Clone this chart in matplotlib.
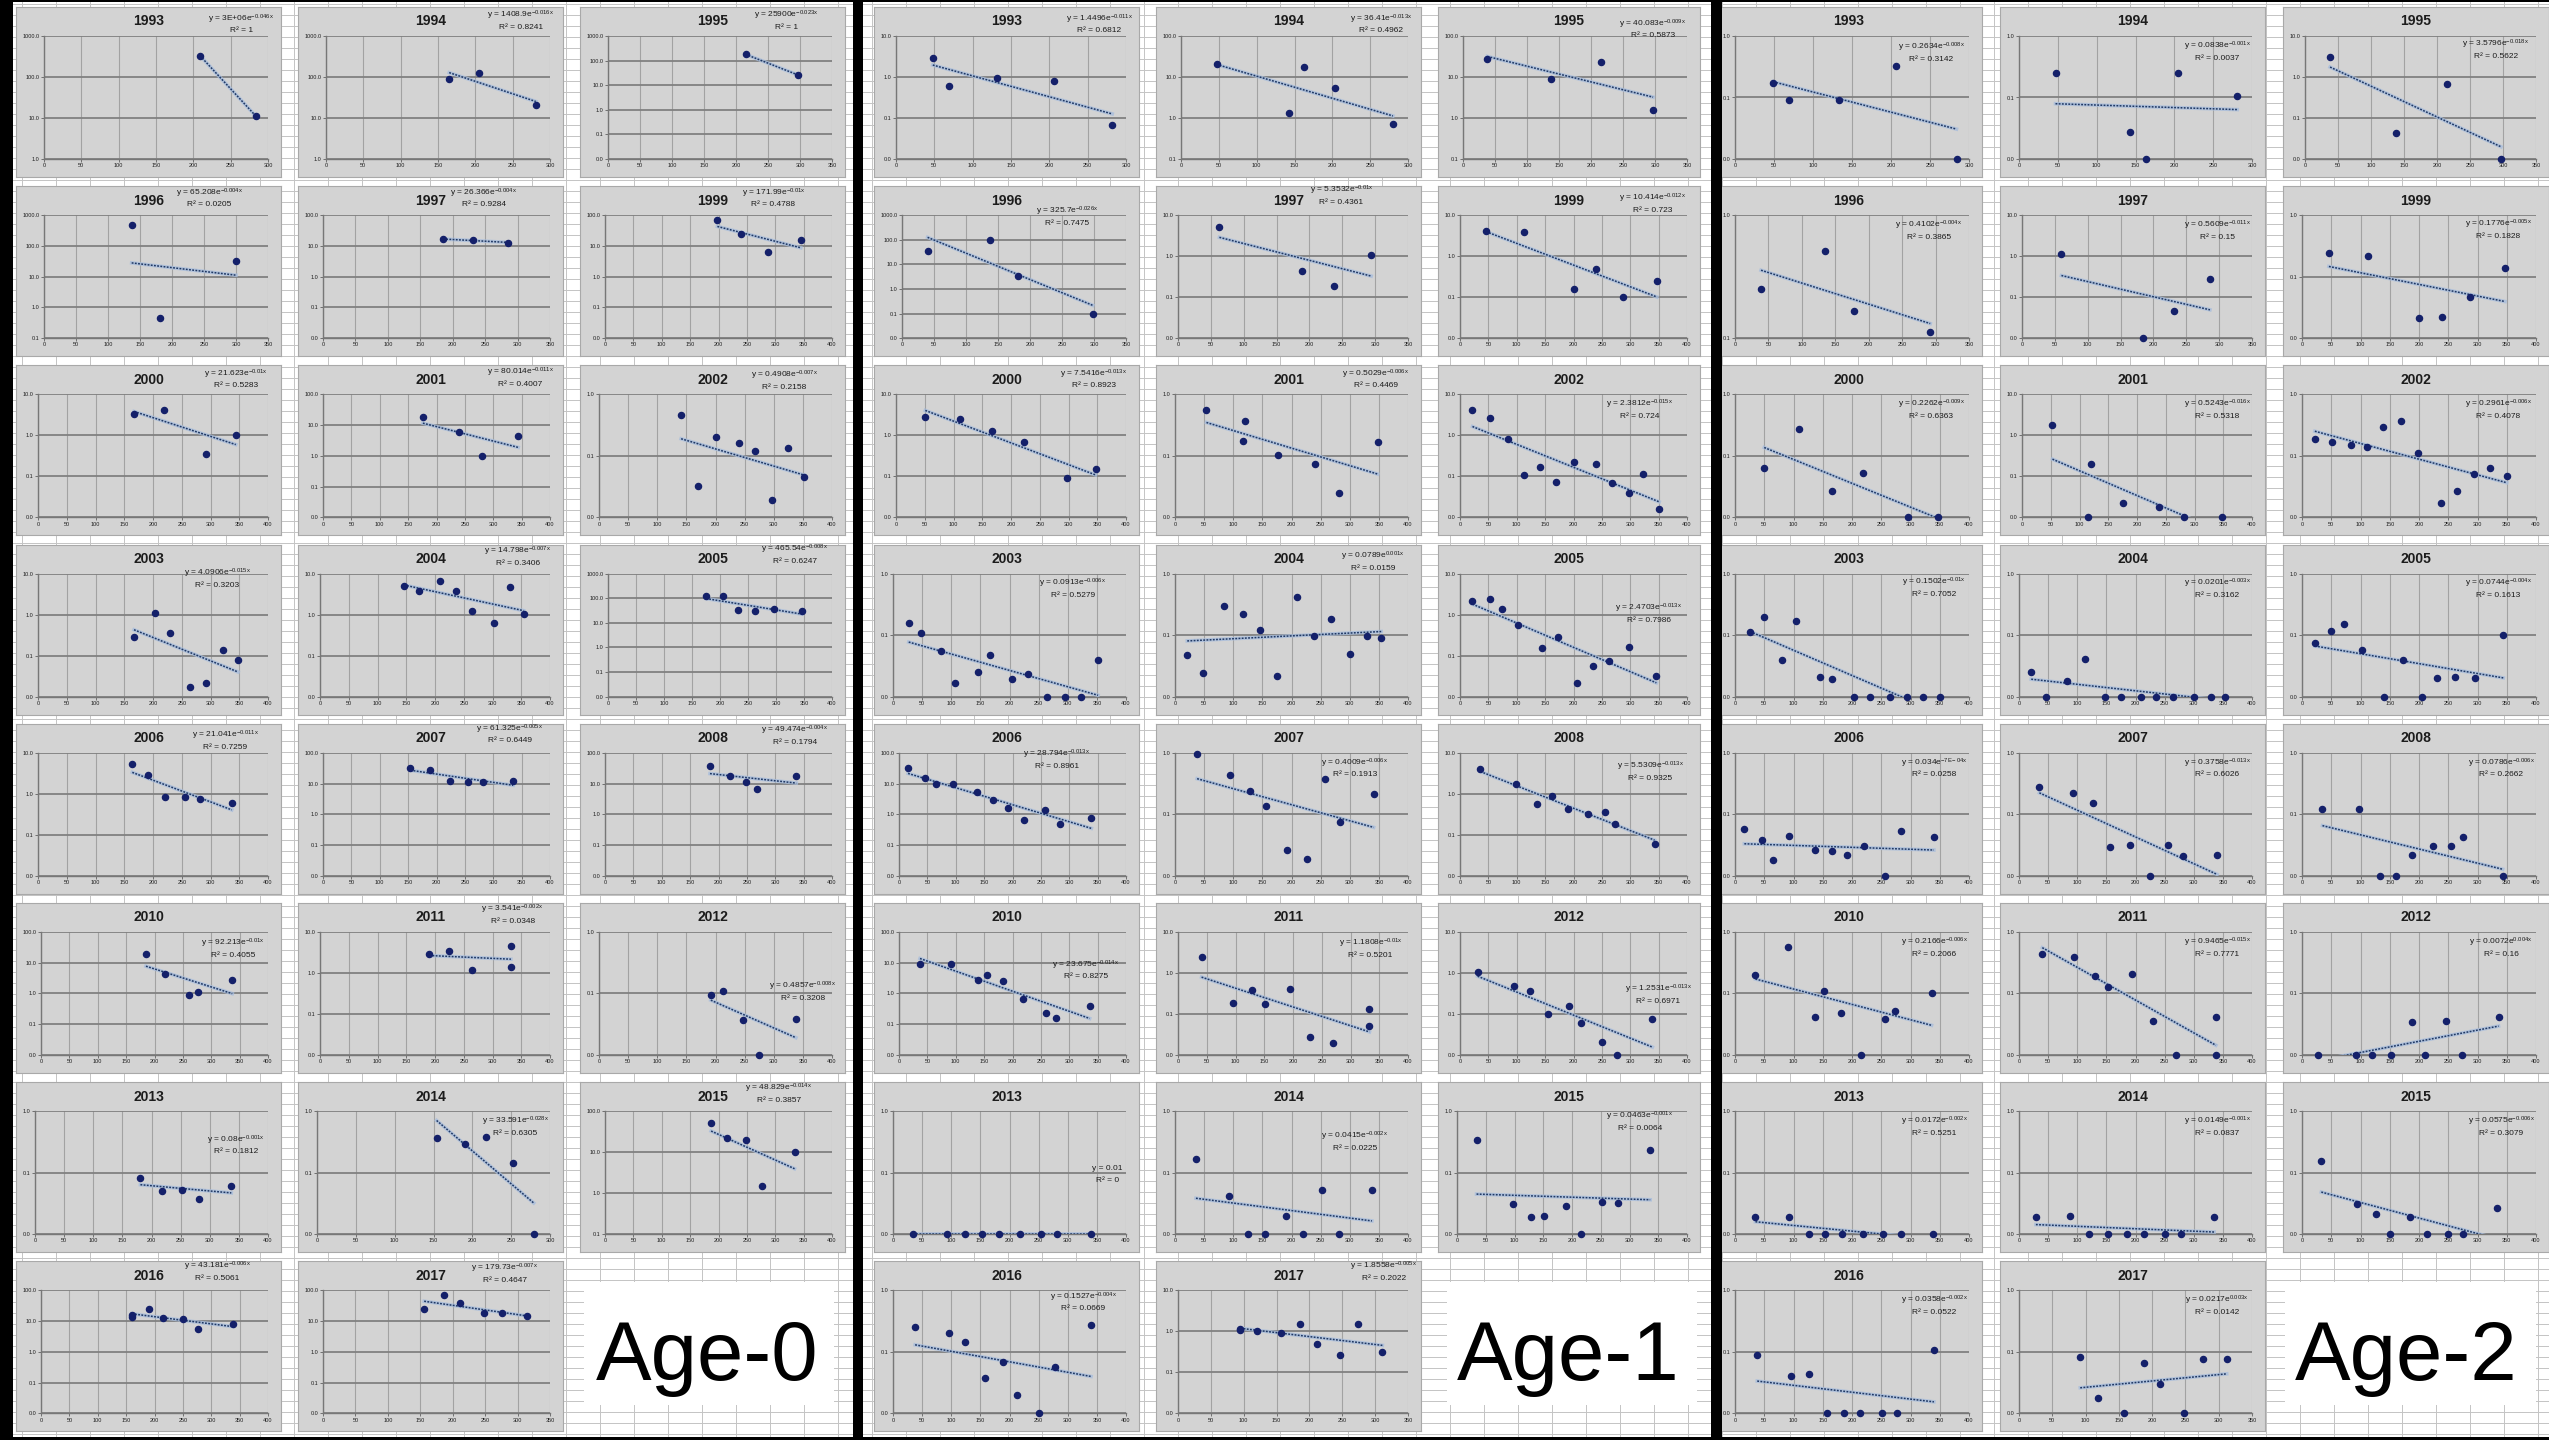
import numpy as np
import matplotlib
matplotlib.use("Agg")
import matplotlib.pyplot as plt
from matplotlib.patches import Rectangle
from matplotlib.ticker import FixedLocator, NullLocator

# ---------------------------------------------------------------- data
YEARS = [1993, 1994, 1995, 1996, 1997, 1999, 2000, 2001, 2002, 2003, 2004, 2005,
         2006, 2007, 2008, 2010, 2011, 2012, 2013, 2014, 2015, 2016, 2017]
AGE_LABELS = ["Age-0", "Age-1", "Age-2"]

# ---- Age-0
AGE0_XMAX = [300, 300, 350, 350, 350, 400, 400, 400, 400, 400, 400, 400,
             400, 400, 400, 400, 400, 400, 400, 300, 400, 400, 350]
AGE0_YDEC = [(0, 3), (0, 3), (-2, 3), (-1, 3), (-2, 2), (-2, 2), (-2, 1), (-2, 2), (-2, 0),
             (-2, 1), (-2, 1), (-2, 3), (-2, 1), (-2, 2), (-2, 2), (-2, 2), (-2, 1), (-2, 0),
             (-2, 0), (-2, 0), (-1, 2), (-2, 2), (-2, 2)]
AGE0_X = [
    [209, 284], [165, 205, 281], [215, 297], [137, 181, 300], [185, 232, 286],
    [198, 239, 287, 345], [167, 219, 293, 344], [176, 239, 281, 344],
    [141, 170, 200, 240, 268, 297, 324, 352], [167, 203, 229, 264, 293, 322, 348],
    [146, 173, 208, 237, 265, 302, 331, 354], [175, 205, 232, 262, 297, 346],
    [164, 191, 220, 256, 282, 337], [154, 189, 224, 255, 282, 335],
    [185, 220, 249, 268, 337], [185, 219, 260, 277, 337], [190, 224, 265, 332, 332],
    [192, 213, 248, 275, 338], [181, 218, 253, 282, 337], [154, 190, 218, 253, 279],
    [187, 215, 249, 277, 334], [160, 160, 190, 215, 250, 277, 338],
    [156, 186, 212, 248, 276, 314]]
AGE0_Y = [
    [330, 11], [90, 125, 21], [180, 26], [480, 0.45, 32], [16.5, 15.5, 12.8],
    [69, 24, 6.4, 16], [3.3, 4.2, 0.36, 1.04], [19, 5.9, 1.0, 4.3],
    [0.46, 0.033, 0.20, 0.16, 0.118, 0.019, 0.133, 0.045],
    [0.29, 1.1, 0.36, 0.017, 0.022, 0.14, 0.078],
    [5.0, 3.7, 6.5, 3.7, 1.2, 0.64, 4.7, 1.04], [118, 120, 33, 30, 37, 30],
    [5.3, 2.9, 0.82, 0.83, 0.76, 0.59], [32, 28.5, 11.7, 11.4, 11, 12],
    [36, 18, 11, 6.8, 18], [19.6, 4.4, 0.88, 1.14, 2.7], [2.9, 3.5, 1.2, 4.5, 1.4],
    [0.095, 0.11, 0.037, 0.01, 0.039], [0.082, 0.051, 0.053, 0.038, 0.061],
    [0.37, 0.29, 0.38, 0.144, 0.01], [52, 22, 20, 1.5, 10],
    [14, 16, 24, 13, 12, 5.6, 8], [24.7, 71, 39, 18, 18, 14.7]]
AGE0_COEF = ["3E+06", "1408.9", "25900", "65.208", "26.366", "171.99", "21.623", "80.014",
             "0.4908", "4.0906", "14.798", "465.54", "21.041", "61.325", "49.474", "92.213",
             "3.541", "0.4857", "0.08", "33.591", "48.829", "43.181", "179.73"]
AGE0_EXP = ["-0.046x", "-0.016x", "-0.023x", "-0.004x", "-0.004x", "-0.01x", "-0.01x",
            "-0.011x", "-0.007x", "-0.015x", "-0.007x", "-0.008x", "-0.011x", "-0.005x",
            "-0.004x", "-0.01x", "-0.002x", "-0.008x", "-0.001x", "-0.028x", "-0.014x",
            "-0.006x", "-0.007x"]
AGE0_R2 = ["1", "0.8241", "1", "0.0205", "0.9284", "0.4788", "0.5283", "0.4007", "0.2158",
           "0.3203", "0.3406", "0.6247", "0.7259", "0.6449", "0.1794", "0.4055", "0.0348",
           "0.3208", "0.1812", "0.6305", "0.3857", "0.5061", "0.4647"]

# ---- Age-1
AGE1_XMAX = [300, 300, 350, 350, 350, 400, 400, 400, 400, 400, 400, 400,
             400, 400, 400, 400, 400, 400, 400, 400, 400, 400, 350]
AGE1_YDEC = [(-2, 1), (-1, 2), (-1, 2), (-2, 3), (-2, 1), (-2, 1), (-2, 1), (-2, 0), (-2, 1),
             (-2, 0), (-2, 0), (-2, 1), (-2, 2), (-2, 0), (-2, 1), (-2, 2), (-2, 1), (-2, 1),
             (-2, 0), (-2, 0), (-2, 0), (-2, 0), (-2, 1)]
AGE1_X = [
    [48, 69, 132, 206, 282], [47, 143, 163, 204, 280], [38, 138, 215, 297],
    [40, 138, 182, 298], [63, 188, 237, 294], [46, 112, 200, 240, 288, 347],
    [51, 112, 167, 222, 297, 347], [54, 116, 121, 176, 241, 281, 348],
    [22, 52, 84, 112, 141, 170, 200, 240, 267, 297, 323, 351],
    [27, 48, 83, 107, 146, 167, 204, 231, 265, 295, 322, 352],
    [21, 48, 84, 116, 146, 175, 210, 238, 267, 300, 330, 354],
    [22, 52, 74, 103, 145, 173, 207, 234, 262, 297, 346],
    [16, 46, 66, 95, 138, 165, 192, 220, 257, 283, 339],
    [38, 95, 128, 157, 193, 227, 257, 284, 341],
    [36, 98, 135, 162, 190, 225, 255, 274, 343],
    [37, 92, 140, 155, 184, 218, 259, 276, 336],
    [41, 95, 129, 152, 195, 229, 269, 333, 333],
    [31, 95, 124, 155, 192, 214, 250, 276, 339],
    [35, 93, 124, 153, 182, 218, 254, 282, 340],
    [36, 93, 126, 154, 190, 219, 253, 281, 338],
    [34, 97, 129, 152, 189, 216, 252, 280, 336],
    [38, 96, 124, 158, 188, 213, 251, 278, 340],
    [95, 95, 120, 157, 186, 212, 247, 274, 311]]
AGE1_Y = [
    [2.9, 0.59, 0.95, 0.79, 0.066], [21, 1.32, 18, 5.4, 0.72], [27, 9, 23, 1.6],
    [34, 100, 3.4, 0.1], [5.2, 0.44, 0.19, 1.08], [4.2, 4.0, 0.16, 0.5, 0.10, 0.25],
    [2.8, 2.55, 1.26, 0.69, 0.091, 0.15], [0.55, 0.176, 0.37, 0.105, 0.073, 0.025, 0.17],
    [4.2, 2.7, 0.84, 0.11, 0.17, 0.072, 0.22, 0.205, 0.069, 0.039, 0.115, 0.016],
    [0.157, 0.11, 0.056, 0.0168, 0.025, 0.048, 0.019, 0.023, 0.01, 0.01, 0.01, 0.039],
    [0.048, 0.024, 0.30, 0.22, 0.12, 0.022, 0.41, 0.096, 0.18, 0.050, 0.097, 0.091],
    [2.2, 2.35, 1.4, 0.56, 0.156, 0.29, 0.022, 0.055, 0.072, 0.16, 0.031],
    [31, 14.7, 10, 9.5, 5.3, 2.9, 1.55, 0.65, 1.43, 0.47, 0.77],
    [0.97, 0.44, 0.24, 0.139, 0.026, 0.019, 0.37, 0.075, 0.21],
    [4.0, 1.78, 0.55, 0.89, 0.42, 0.33, 0.37, 0.18, 0.06],
    [9.3, 9.3, 2.7, 4.0, 2.5, 0.66, 0.23, 0.155, 0.40],
    [2.45, 0.185, 0.38, 0.173, 0.40, 0.028, 0.020, 0.052, 0.13],
    [1.08, 0.47, 0.36, 0.10, 0.16, 0.062, 0.021, 0.01, 0.075],
    [0.01, 0.01, 0.01, 0.01, 0.01, 0.01, 0.01, 0.01, 0.01],
    [0.17, 0.042, 0.01, 0.01, 0.020, 0.01, 0.052, 0.01, 0.053],
    [0.34, 0.031, 0.019, 0.020, 0.029, 0.01, 0.033, 0.032, 0.23],
    [0.25, 0.20, 0.144, 0.037, 0.068, 0.020, 0.01, 0.057, 0.27],
    [1.1, 1.15, 1.0, 0.92, 1.54, 0.5, 0.27, 1.48, 0.32]]
AGE1_COEF = ["1.4496", "36.41", "40.083", "325.7", "5.3532", "10.414", "7.5416", "0.5029",
             "2.3812", "0.0913", "0.0789", "2.4703", "28.794", "0.4009", "5.5309", "23.675",
             "1.1808", "1.2531", "0.01", "0.0415", "0.0463", "0.1527", "1.8558"]
AGE1_EXP = ["-0.011x", "-0.013x", "-0.009x", "-0.026x", "-0.01x", "-0.012x", "-0.013x",
            "-0.006x", "-0.015x", "-0.006x", "0.001x", "-0.013x", "-0.013x", "-0.006x",
            "-0.013x", "-0.014x", "-0.01x", "-0.013x", "", "-0.002x", "-0.001x", "-0.004x",
            "-0.005x"]
AGE1_R2 = ["0.6812", "0.4962", "0.5873", "0.7475", "0.4361", "0.723", "0.8923", "0.4469",
           "0.724", "0.5279", "0.0159", "0.7986", "0.8961", "0.1913", "0.9325", "0.8275",
           "0.5201", "0.6971", "0", "0.0225", "0.0064", "0.0669", "0.2022"]

# ---- Age-2
AGE2_XMAX = [300, 300, 350, 350, 350, 400, 400, 400, 400, 400, 400, 400,
             400, 400, 400, 400, 400, 400, 400, 400, 400, 400, 350]
AGE2_YDEC = [(-2, 0), (-2, 0), (-2, 1), (-1, 0), (-2, 1), (-2, 0), (-2, 0), (-2, 1), (-2, 0),
             (-2, 0), (-2, 0), (-2, 0), (-2, 0), (-2, 0), (-2, 0), (-2, 0), (-2, 0), (-2, 0),
             (-2, 0), (-2, 0), (-2, 0), (-2, 0), (-2, 0)]
AGE2_X = [
    [49, 69, 133, 207, 284], [47, 143, 163, 205, 281], [38, 138, 215, 297],
    [39, 134, 178, 292], [60, 184, 232, 286], [46, 112, 200, 240, 288, 347],
    [50, 109, 165, 219, 295, 347], [53, 114, 120, 176, 239, 281, 347],
    [22, 51, 83, 111, 139, 169, 198, 238, 265, 294, 322, 350],
    [26, 49, 81, 104, 146, 166, 204, 230, 265, 294, 322, 350],
    [21, 47, 82, 113, 147, 175, 209, 236, 265, 300, 329, 353],
    [22, 50, 72, 102, 141, 172, 205, 231, 261, 296, 344],
    [16, 46, 65, 93, 137, 165, 192, 221, 257, 284, 340],
    [35, 93, 127, 156, 191, 225, 255, 282, 340],
    [35, 98, 134, 160, 188, 224, 254, 275, 343],
    [35, 90, 137, 152, 182, 215, 257, 273, 336],
    [40, 94, 130, 152, 194, 230, 270, 338, 338],
    [28, 92, 120, 152, 188, 210, 247, 273, 336],
    [35, 92, 126, 154, 183, 218, 253, 283, 339],
    [29, 88, 121, 152, 186, 214, 250, 278, 335],
    [33, 94, 127, 151, 185, 214, 249, 276, 333],
    [38, 95, 126, 157, 187, 213, 251, 277, 340],
    [92, 119, 157, 188, 212, 248, 277, 312]]
AGE2_Y = [
    [0.17, 0.092, 0.09, 0.32, 0.01], [0.25, 0.027, 0.01, 0.25, 0.105], [3.0, 0.043, 0.68, 0.01],
    [0.25, 0.51, 0.165, 0.113], [1.16, 0.01, 0.047, 0.28], [0.24, 0.215, 0.021, 0.022, 0.046, 0.14],
    [0.064, 0.27, 0.027, 0.052, 0.01, 0.01], [1.8, 0.01, 0.2, 0.022, 0.018, 0.01, 0.01],
    [0.19, 0.17, 0.15, 0.137, 0.30, 0.37, 0.11, 0.017, 0.027, 0.051, 0.064, 0.048],
    [0.114, 0.20, 0.04, 0.17, 0.021, 0.019, 0.01, 0.01, 0.01, 0.01, 0.01, 0.01],
    [0.025, 0.01, 0.018, 0.041, 0.01, 0.01, 0.01, 0.01, 0.01, 0.01, 0.01, 0.01],
    [0.074, 0.118, 0.15, 0.057, 0.01, 0.039, 0.01, 0.020, 0.021, 0.020, 0.1],
    [0.057, 0.038, 0.018, 0.044, 0.026, 0.025, 0.022, 0.030, 0.01, 0.053, 0.042],
    [0.28, 0.22, 0.15, 0.029, 0.032, 0.01, 0.032, 0.021, 0.022],
    [0.12, 0.123, 0.01, 0.01, 0.022, 0.031, 0.031, 0.043, 0.01],
    [0.20, 0.56, 0.041, 0.11, 0.049, 0.01, 0.039, 0.052, 0.103],
    [0.44, 0.39, 0.19, 0.128, 0.21, 0.036, 0.01, 0.041, 0.01],
    [0.01, 0.01, 0.01, 0.01, 0.035, 0.01, 0.036, 0.01, 0.042],
    [0.019, 0.019, 0.01, 0.01, 0.01, 0.01, 0.01, 0.01, 0.01],
    [0.019, 0.020, 0.01, 0.01, 0.01, 0.01, 0.01, 0.01, 0.019],
    [0.155, 0.031, 0.021, 0.01, 0.019, 0.01, 0.01, 0.01, 0.027],
    [0.09, 0.041, 0.043, 0.01, 0.01, 0.01, 0.01, 0.01, 0.107],
    [0.082, 0.0175, 0.01, 0.066, 0.030, 0.01, 0.077, 0.077]]
AGE2_COEF = ["0.2634", "0.0838", "3.5796", "0.4102", "0.5609", "0.1776", "0.2262", "0.5243",
             "0.2961", "0.1502", "0.0201", "0.0744", "0.034", "0.3758", "0.0786", "0.2166",
             "0.9465", "0.0072", "0.0172", "0.0149", "0.0575", "0.0358", "0.0217"]
AGE2_EXP = ["-0.008x", "-0.001x", "-0.018x", "-0.004x", "-0.011x", "-0.005x", "-0.009x",
            "-0.016x", "-0.006x", "-0.01x", "-0.003x", "-0.004x", "-7E-04x", "-0.013x",
            "-0.006x", "-0.006x", "-0.015x", "0.004x", "-0.002x", "-0.001x", "-0.006x",
            "-0.002x", "0.003x"]
AGE2_R2 = ["0.3142", "0.0037", "0.5622", "0.3865", "0.15", "0.1828", "0.6363", "0.5318",
           "0.4078", "0.7052", "0.3162", "0.1613", "0.0258", "0.6026", "0.2662", "0.2066",
           "0.7771", "0.16", "0.5251", "0.0837", "0.3079", "0.0522", "0.0142"]

# ---------------------------------------------------------------- layout (not data)
AGE0_EQPOS = [(0.85, 0.93), (0.84, 0.95), (0.78, 0.95), (0.73, 0.96), (0.70, 0.96), (0.73, 0.96),
              (0.83, 0.95), (0.84, 0.96), (0.77, 0.94), (0.76, 0.83), (0.83, 0.96), (0.81, 0.97),
              (0.79, 0.93), (0.80, 0.97), (0.81, 0.96), (0.82, 0.76), (0.81, 0.96), (0.84, 0.51),
              (0.83, 0.66), (0.82, 0.77), (0.75, 0.965), (0.76, 0.97), (0.78, 0.96)]
AGE1_EQPOS = [(0.85, 0.93), (0.85, 0.93), (0.82, 0.90), (0.73, 0.85), (0.70, 0.975), (0.82, 0.93),
              (0.83, 0.95), (0.83, 0.95), (0.77, 0.77), (0.75, 0.77), (0.82, 0.93), (0.805, 0.625),
              (0.69, 0.82), (0.75, 0.77), (0.81, 0.75), (0.80, 0.635), (0.81, 0.76), (0.84, 0.49),
              (0.88, 0.49), (0.75, 0.68), (0.77, 0.80), (0.79, 0.79), (0.86, 0.97)]
AGE2_EQPOS = [(0.81, 0.76), (0.82, 0.77), (0.80, 0.78), (0.80, 0.77), (0.82, 0.77), (0.81, 0.775),
              (0.81, 0.77), (0.82, 0.77), (0.81, 0.77), (0.82, 0.775), (0.82, 0.77), (0.81, 0.77),
              (0.82, 0.77), (0.82, 0.77), (0.82, 0.77), (0.82, 0.77), (0.82, 0.77), (0.82, 0.77),
              (0.82, 0.77), (0.82, 0.77), (0.82, 0.77), (0.82, 0.77), (0.82, 0.77)]

W, H = 2549, 1440
COL_LEFT = [16, 298, 580, 874, 1156, 1438, 1716, 2000, 2283]
COL_W = [265, 265, 265, 265, 265, 262, 266, 265, 266]
ROW_TOP0, ROW_PITCH, CHART_H = 7, 179.2, 170
LABEL_BOX = [(584, 834), (1447, 1697), (2285, 2536)]
LABEL_BOX_Y = (1282, 1405)
LABEL_CX = [707, 1568, 2406]
LABEL_BASE = 1380

FONT = ['Liberation Sans Narrow', 'Liberation Sans', 'DejaVu Sans']
plt.rcParams['font.family'] = FONT
plt.rcParams['mathtext.fontset'] = 'custom'
plt.rcParams['mathtext.rm'] = 'Liberation Sans'
plt.rcParams['mathtext.it'] = 'Liberation Sans:italic'
plt.rcParams['mathtext.bf'] = 'Liberation Sans:bold'
plt.rcParams['mathtext.default'] = 'regular'

CHART_BG = '#d3d3d3'
DOT = '#14206a'


def rect_fig(left, top, w, h):
    return [left / W, 1 - (top + h) / H, w / W, h / H]


fig = plt.figure(figsize=(W / 100, H / 100), dpi=100)
fig.patch.set_facecolor('white')

# spreadsheet background
bg = fig.add_axes([0, 0, 1, 1])
bg.set_xlim(0, W)
bg.set_ylim(H, 0)
bg.axis('off')
bg.hlines(np.arange(4, H, 11.0), 0, W, color='#c4c4c4', lw=0.7)
bg.vlines(np.arange(22, W, 34.0), 0, H, color='#c4c4c4', lw=0.7)
for (x0, x1), cx in zip(LABEL_BOX, LABEL_CX):
    bg.add_patch(Rectangle((x0, LABEL_BOX_Y[0]), x1 - x0, LABEL_BOX_Y[1] - LABEL_BOX_Y[0],
                           facecolor='white', edgecolor='none', zorder=3))

groups = [
    (AGE0_XMAX, AGE0_YDEC, AGE0_X, AGE0_Y, AGE0_COEF, AGE0_EXP, AGE0_R2, AGE0_EQPOS),
    (AGE1_XMAX, AGE1_YDEC, AGE1_X, AGE1_Y, AGE1_COEF, AGE1_EXP, AGE1_R2, AGE1_EQPOS),
    (AGE2_XMAX, AGE2_YDEC, AGE2_X, AGE2_Y, AGE2_COEF, AGE2_EXP, AGE2_R2, AGE2_EQPOS),
]

for g, (xmaxs, ydecs, xs_all, ys_all, coefs, exps, r2s, eqpos) in enumerate(groups):
    for i, year in enumerate(YEARS):
        r, c = divmod(i, 3)
        left = COL_LEFT[g * 3 + c]
        cw = COL_W[g * 3 + c]
        top = ROW_TOP0 + ROW_PITCH * r
        ca = fig.add_axes(rect_fig(left, top, cw, CHART_H))
        ca.set_facecolor(CHART_BG)
        ca.set_xticks([])
        ca.set_yticks([])
        for s in ca.spines.values():
            s.set_color('#a9a9a9')
            s.set_linewidth(0.8)
        ca.text(0.5, 0.915, str(year), transform=ca.transAxes, ha='center', va='center',
                fontsize=10, fontweight='bold', color='#1c1c1c')

        ylo, yhi = ydecs[i]
        nlab = len(f"{10.0 ** yhi:.1f}")
        lin = 10 + 3 * nlab
        pa = fig.add_axes(rect_fig(left + lin, top + 29, cw - lin - 13, CHART_H - 29 - 18))
        pa.set_facecolor(CHART_BG)
        pa.set_yscale('log')
        pa.set_ylim(10.0 ** ylo, 10.0 ** yhi)
        pa.set_xlim(0, xmaxs[i])
        yt = [10.0 ** k for k in range(ylo, yhi + 1)]
        pa.yaxis.set_major_locator(FixedLocator(yt))
        pa.yaxis.set_minor_locator(NullLocator())
        pa.set_yticklabels([f"{v:.1f}" for v in yt])
        xt = list(range(0, xmaxs[i] + 1, 50))
        pa.set_xticks(xt)
        pa.set_xticklabels([str(v) for v in xt])
        pa.tick_params(labelsize=4, length=2, width=0.6, color='#606060', pad=1,
                       labelcolor='#202020')
        pa.grid(axis='y', color='#808080', lw=1.3)
        pa.grid(axis='x', color='#a2a2a2', lw=0.8)
        pa.set_axisbelow(True)
        for side in ('top', 'right'):
            pa.spines[side].set_visible(False)
        for side in ('left', 'bottom'):
            pa.spines[side].set_color('#777777')
            pa.spines[side].set_linewidth(1.0)

        x = np.array(xs_all[i], dtype=float)
        y = np.array(ys_all[i], dtype=float)
        b, a = np.polyfit(x, np.log(y), 1)
        xf = np.linspace(x.min(), x.max(), 60)
        yf = np.exp(a + b * xf)
        pa.plot(xf, yf, color='#a8bddc', lw=2.6, alpha=0.8, zorder=3)
        pa.plot(xf, yf, color='#1f3864', lw=1.1, ls=(0, (1.2, 0.9)), zorder=3.5)
        pa.plot(x, y, 'o', ms=4.4, color=DOT, mec=DOT, clip_on=False, zorder=4)

        ex, ey = eqpos[i]
        eq = f"y = {coefs[i]}e$^{{{exps[i]}}}$" if exps[i] else f"y = {coefs[i]}"
        pa.text(ex, ey, eq, transform=ca.transAxes, ha='center', va='center',
                fontsize=6, color='#1c1c1c', clip_on=False, zorder=6)
        pa.text(ex, ey - 0.07, f"R² = {r2s[i]}", transform=ca.transAxes, ha='center',
                va='center', fontsize=6, color='#1c1c1c', clip_on=False, zorder=6)

# group labels
for lab, cx in zip(AGE_LABELS, LABEL_CX):
    bg.text(cx, LABEL_BASE, lab, ha='center', va='baseline', fontsize=60, color='black',
            zorder=4)

# black frame / separators on top
ov = fig.add_axes([0, 0, 1, 1])
ov.set_xlim(0, W)
ov.set_ylim(H, 0)
ov.axis('off')
ov.patch.set_alpha(0)
for x0, w in [(0, 13), (853, 10), (1711, 11)]:
    ov.add_patch(Rectangle((x0, 0), w, H, facecolor='black', edgecolor='none'))
ov.add_patch(Rectangle((0, 0), W, 2, facecolor='black', edgecolor='none'))
ov.add_patch(Rectangle((0, H - 3), W, 3, facecolor='black', edgecolor='none'))

fig.savefig('out.png', dpi=100, facecolor='white')
